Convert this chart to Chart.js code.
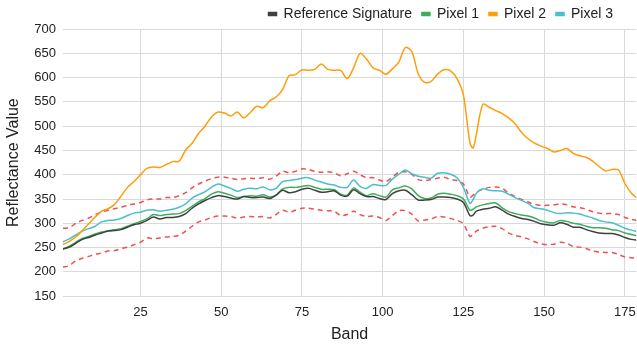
<!DOCTYPE html>
<html>
<head>
<meta charset="utf-8">
<script src="https://cdn.jsdelivr.net/npm/chart.js@4"></script>
<style>
  html, body { margin: 0; padding: 0; background: #fff; }
  #wrap { width: 637px; height: 348px; }
</style>
</head>
<body>
<div id="wrap"><canvas id="specChart" width="637" height="348"></canvas></div>
<script>
/* =====================
   Data
===================== */
const bands = [
  1, 3, 5, 7, 9, 11, 13, 15, 17, 19,
  21, 23, 25, 27, 29, 31, 33, 35, 37, 39,
  41, 43, 45, 47, 49, 51, 53, 55, 57, 59,
  61, 63, 65, 67, 69, 71, 73, 75, 77, 79,
  81, 83, 85, 87, 89, 91, 93, 95, 97, 99,
  101, 103, 105, 107, 109, 111, 113, 115, 117, 119,
  121, 123, 125, 127, 128, 129, 131, 133, 135, 137,
  139, 141, 143, 145, 147, 149, 151, 153, 155, 157,
  159, 161, 163, 165, 167, 169, 171, 173, 175, 177,
  179
];

const refSignature = [
  247, 251, 259, 267, 271, 276, 280, 284, 285, 287,
  292, 297, 300, 306, 313, 309, 312, 312, 314, 320,
  331, 340, 347, 353, 357, 355, 352, 350, 355, 353,
  353, 354, 351, 358, 368, 363, 365, 370, 372, 368,
  364, 365, 367, 358, 356, 369, 361, 355, 355, 351,
  349, 361, 367, 368, 359, 348, 348, 349, 354, 354,
  353, 350, 343, 316, 317, 325, 329, 331, 334, 327,
  319, 314, 310, 308, 304, 299, 297, 296, 301, 298,
  292, 292, 287, 283, 280, 279, 279, 276, 271, 267,
  265
];

const pixel1 = [
  247, 253, 261, 269, 273, 278, 282, 285, 287, 289,
  294, 299, 304, 309, 318, 316, 318, 319, 320, 326,
  335, 344, 351, 360, 365, 362, 358, 353, 355, 357,
  356, 359, 354, 358, 371, 374, 374, 376, 378, 374,
  370, 370, 369, 360, 358, 373, 364, 357, 361, 357,
  354, 369, 373, 377, 371, 357, 351, 352, 360, 362,
  360, 357, 350, 327, 329, 334, 338, 341, 342, 332,
  324, 320, 317, 315, 311, 305, 302, 301, 306, 304,
  300, 298, 294, 291, 291, 290, 287, 285, 280, 277,
  274
];

const pixel2 = [
  256, 263, 272, 285, 299, 313, 325, 330, 339, 356,
  374, 386, 400, 413, 416, 415, 421, 427, 428, 451,
  465, 485, 500, 519, 529, 527, 521, 529, 517, 528,
  541, 538, 552, 560, 575, 604, 606, 616, 615, 617,
  628, 617, 615, 615, 598, 620, 650, 638, 620, 615,
  607, 618, 632, 662, 654, 608, 590, 592, 607, 616,
  614, 598, 564, 466, 455, 483, 545, 539, 532, 526,
  517, 505, 487, 474, 465, 459, 454, 447, 450, 454,
  444, 439, 436, 428, 417, 408, 411, 410, 382, 362,
  351
];

const pixel3 = [
  262, 268, 276, 284, 289, 294, 303, 306, 307, 310,
  316, 321, 323, 327, 328, 325, 327, 329, 333, 340,
  352, 359, 365, 374, 381, 377, 372, 366, 370, 372,
  371, 375, 369, 372, 386, 388, 390, 393, 394, 389,
  385, 381, 379, 374, 374, 389, 376, 372, 380, 378,
  378, 391, 401, 410, 402, 397, 395, 393, 403, 404,
  401, 394, 374, 341, 349, 362, 371, 368, 367, 366,
  360, 353, 347, 341, 332, 330, 327, 322, 320, 322,
  321, 319, 315, 311, 306, 303, 301, 296, 290, 286,
  283
];

const upperBound = [
  290, 291, 300, 306, 311, 318, 323, 327, 330, 333,
  337, 340, 343, 348, 350, 350, 353, 353, 357, 363,
  373, 381, 387, 392, 395, 395, 393, 390, 392, 393,
  392, 394, 391, 397, 407, 404, 407, 412, 411, 407,
  405, 406, 404, 398, 402, 407, 400, 394, 394, 389,
  386, 395, 405, 406, 401, 390, 388, 390, 393, 395,
  390, 388, 381, 354, 358, 364, 370, 374, 375, 372,
  362, 355, 349, 344, 339, 337, 337, 338, 340, 338,
  334, 332, 329, 324, 321, 320, 320, 318, 312, 308,
  306
];

const lowerBound = [
  210, 213, 223, 228, 232, 236, 239, 243, 244, 248,
  251, 256, 261, 270, 268, 270, 272, 273, 275, 284,
  294, 303, 307, 312, 315, 315, 314, 311, 313, 314,
  313, 314, 311, 318, 327, 323, 327, 331, 331, 329,
  327, 326, 325, 316, 318, 325, 318, 314, 315, 312,
  306, 316, 326, 326, 319, 305, 307, 309, 314, 313,
  310, 306, 299, 273, 277, 284, 290, 293, 294, 289,
  280, 275, 272, 268, 262, 258, 256, 257, 261, 259,
  252, 251, 248, 243, 241, 240, 240, 236, 231, 229,
  228
];

const xTicks = [25, 50, 75, 100, 125, 150, 175];
const yTicks = [150, 200, 250, 300, 350, 400, 450, 500, 550, 600, 650, 700];

/* =====================
   Helpers
===================== */
const toPoints = vals => bands.map((b, i) => ({ x: b, y: vals[i] }));

function lineSet(label, vals, color, extra) {
    return Object.assign({
        label: label,
        data: toPoints(vals),
        borderColor: color,
        backgroundColor: color,
        borderWidth: 1.5,
        pointRadius: 0,
        pointHoverRadius: 0,
        tension: 0.3,
        fill: false
    }, extra || {});
}

// legend: a bit shorter and moved left, like the reference
const legendTweak = {
    id: 'legendTweak',
    beforeInit(chart) {
        // nothing here, the legend box is created after this hook
    },
    afterLayout(chart) {
        const lg = chart.legend;
        if (lg) {
            lg.right -= 14;
            lg.top -= 3;
            lg.bottom -= 3;
        }
    }
};

Chart.defaults.font.family = '"Liberation Sans", Arial, sans-serif';
Chart.defaults.color = '#333';

const chart = new Chart(document.getElementById('specChart'), {
    type: 'line',
    data: {
        datasets: [
            lineSet('Reference Signature', refSignature, '#404040'),
            lineSet('Pixel 1', pixel1, '#3cae5a'),
            lineSet('Pixel 2', pixel2, '#ff9d0a'),
            lineSet('Pixel 3', pixel3, '#4bbfcc'),
            lineSet('Upper Bound', upperBound, '#f05050', { borderDash: [5, 4] }),
            lineSet('Lower Bound', lowerBound, '#f05050', { borderDash: [5, 4] })
        ]
    },
    options: {
        responsive: false,
        animation: false,
        layout: { padding: 0 },
        plugins: {
            legend: {
                display: true,
                position: 'top',
                align: 'end',
                labels: {
                    boxWidth: 8,
                    boxHeight: 3,
                    padding: 10,
                    font: { size: 14 },
                    color: '#222',
                    filter: item => item.text.indexOf('Bound') === -1
                }
            },
            tooltip: { enabled: false }
        },
        scales: {
            x: {
                type: 'linear',
                min: 1,
                max: 178.5,
                afterBuildTicks: axis => {
                    axis.ticks = xTicks.map(v => ({ value: v }));
                },
                afterFit: axis => {
                    axis.paddingRight = 0;
                },
                grid: { color: '#d9d9d9', lineWidth: 1, drawTicks: false },
                border: { display: false },
                ticks: { font: { size: 13 }, color: '#222', padding: 8, maxRotation: 0 },
                title: { display: true, text: 'Band', font: { size: 16 }, color: '#222', padding: { top: -3, bottom: 4 } }
            },
            y: {
                min: 150,
                max: 700,
                afterBuildTicks: axis => {
                    axis.ticks = yTicks.map(v => ({ value: v }));
                },
                grid: { color: '#d9d9d9', lineWidth: 1, drawTicks: false },
                border: { display: false },
                ticks: { font: { size: 13 }, color: '#222', padding: 7 },
                title: { display: true, text: 'Reflectance Value', font: { size: 16 }, color: '#222' }
            }
        }
    },
    plugins: [legendTweak]
});

// shrink the legend box height so the plot starts higher
const origFit = chart.legend.fit;
chart.legend.fit = function () {
    origFit.call(this);
    this.height -= 5;
};
chart.update();
</script>
</body>
</html>
